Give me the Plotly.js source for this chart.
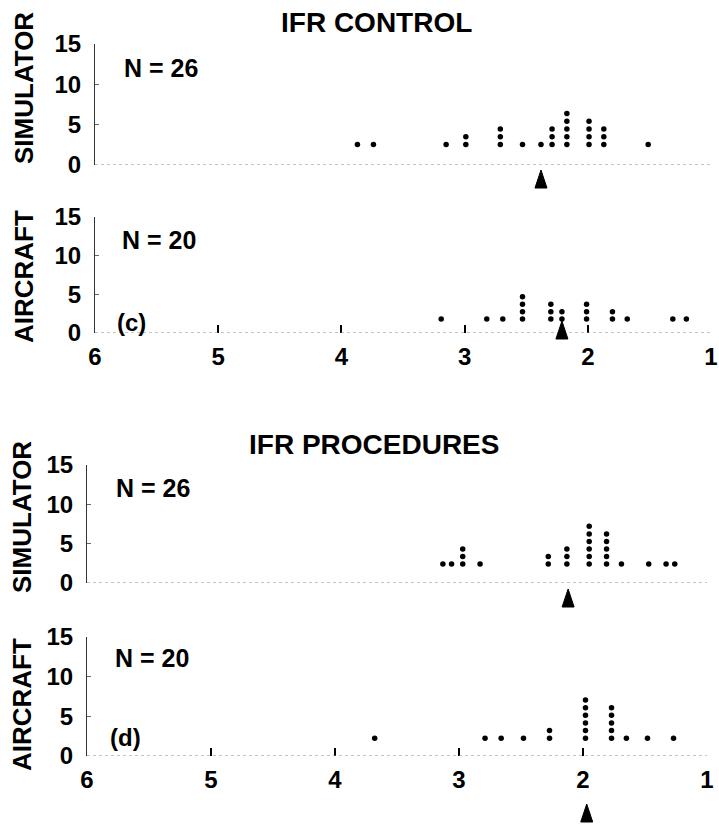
<!DOCTYPE html>
<html>
<head>
<meta charset="utf-8">
<script src="https://cdn.plot.ly/plotly-3.0.1.min.js"></script>
<style>html,body{margin:0;padding:0;background:#fff;}#chart{width:719px;height:826px;}</style>
</head>
<body>
<div id="chart"></div>
<script>
// ---- data (score scale 6 .. 1, counts of subjects) ----
const xTickValues = [6, 5, 4, 3, 2, 1];
const xTickLabels = ["6", "5", "4", "3", "2", "1"];
const yTickValues = [0, 5, 10, 15];
const yTickLabels = ["0", "5", "10", "15"];

// (c) IFR CONTROL - simulator, N = 26
const ctrlSimScores = [3.87, 3.74, 3.15, 2.99, 2.71, 2.53, 2.38, 2.29, 2.17, 1.99, 1.87, 1.51];
const ctrlSimCounts = [1, 1, 1, 2, 3, 1, 1, 3, 5, 4, 3, 1];
const ctrlSimMedian = 2.38;
// (c) IFR CONTROL - aircraft, N = 20
const ctrlAcScores = [3.19, 2.82, 2.69, 2.53, 2.30, 2.21, 2.01, 1.80, 1.68, 1.31, 1.20];
const ctrlAcCounts = [1, 1, 1, 4, 3, 2, 3, 2, 1, 1, 1];
const ctrlAcMedian = 2.21;
// (d) IFR PROCEDURES - simulator, N = 26
const procSimScores = [3.13, 3.06, 2.97, 2.83, 2.28, 2.13, 1.95, 1.81, 1.69, 1.47, 1.33, 1.26];
const procSimCounts = [1, 1, 3, 1, 2, 3, 6, 5, 1, 1, 1, 1];
const procSimMedian = 2.12;
// (d) IFR PROCEDURES - aircraft, N = 20
const procAcScores = [3.68, 2.79, 2.66, 2.48, 2.27, 1.98, 1.77, 1.65, 1.48, 1.27];
const procAcCounts = [1, 1, 1, 1, 2, 6, 5, 1, 1, 1];
const procAcMedian = 1.97;

const panelGroups = ["SIMULATOR", "AIRCRAFT", "SIMULATOR", "AIRCRAFT"];
const panelN = ["N = 26", "N = 20", "N = 26", "N = 20"];
const sectionTitles = ["IFR CONTROL", "IFR PROCEDURES"];
const panelLetters = ["(c)", "(d)"];

// ---- layout (pixel geometry of the figure) ----
const W = 719, H = 826;
const px = v => v / W, py = v => 1 - v / H;
const panels = [
  {scores: ctrlSimScores, counts: ctrlSimCounts, median: ctrlSimMedian, xl: 95, xr: 711, y0: 165, y15: 44, base: 2.55, triPx: 179, ticks: false},
  {scores: ctrlAcScores, counts: ctrlAcCounts, median: ctrlAcMedian, xl: 95, xr: 711, y0: 333, y15: 217, base: 1.8, triPx: 330, ticks: true},
  {scores: procSimScores, counts: procSimCounts, median: procSimMedian, xl: 87, xr: 707, y0: 583, y15: 465, base: 2.4, triPx: 598, ticks: false},
  {scores: procAcScores, counts: procAcCounts, median: procAcMedian, xl: 87, xr: 707, y0: 756, y15: 637, base: 2.25, triPx: 813, ticks: true}
];
const STEP = 0.96;
const FONT = "Liberation Sans, Arial, Helvetica, sans-serif";

const traces = [];
const layout = {
  width: W, height: H,
  margin: {l: 0, r: 0, t: 0, b: 0},
  paper_bgcolor: "#fff", plot_bgcolor: "rgba(0,0,0,0)",
  showlegend: false,
  font: {family: FONT, size: 24, color: "#000", weight: "bold"},
  annotations: [], shapes: []
};

panels.forEach((p, i) => {
  const n = i + 1;
  const xa = "x" + (n === 1 ? "" : n), ya = "y" + (n === 1 ? "" : n);
  // stacked dots
  const dx = [], dy = [];
  p.scores.forEach((s, j) => {
    for (let k = 0; k < p.counts[j]; k++) { dx.push(s); dy.push(p.base + k * STEP); }
  });
  traces.push({type: "scatter", mode: "markers", x: dx, y: dy, xaxis: xa, yaxis: ya,
    marker: {symbol: "circle", size: 5.5, color: "#000"}, hoverinfo: "x", cliponaxis: false});

  layout["xaxis" + (n === 1 ? "" : n)] = {
    domain: [px(p.xl), px(p.xr)], range: [6, 1], anchor: ya,
    showgrid: false, zeroline: false, showline: false,
    tickvals: xTickValues, ticktext: xTickLabels,
    showticklabels: p.ticks, ticks: p.ticks ? "inside" : "", ticklen: 8, tickwidth: 2, tickcolor: "#000",
    ticklabelstandoff: 7, ticklabeloverflow: "allow",
    tickfont: {size: 24, family: FONT, weight: "bold"}
  };
  layout["yaxis" + (n === 1 ? "" : n)] = {
    domain: [py(p.y0), py(p.y15)], range: [0, 15], anchor: xa,
    showgrid: false, zeroline: false, showline: true, linecolor: "#333", linewidth: 1,
    tickvals: yTickValues, ticktext: yTickLabels,
    ticks: "inside", ticklen: 4, tickcolor: "#666",
    ticklabelstandoff: 8, tickfont: {size: 24, family: FONT, weight: "bold"}
  };
  // faint dotted baseline
  layout.shapes.push({type: "line", xref: xa + " domain", yref: ya, x0: 0, x1: 1, y0: 0, y1: 0,
    line: {color: "#8a8a8a", width: 1.2, dash: "dot"}});
  // median marker: tall black triangle anchored at the median score
  layout.shapes.push({type: "path", xref: xa, yref: "paper",
    xsizemode: "pixel", xanchor: p.median, ysizemode: "pixel", yanchor: py(p.triPx),
    path: "M -6,-9 L 6,-9 L 0,9 Z", fillcolor: "#000", line: {color: "#000", width: 1}});
});

const ann = (text, x, y, size, extra) => Object.assign({text, x: px(x), y: py(y), xref: "paper", yref: "paper",
  xanchor: "center", yanchor: "middle", showarrow: false, font: {family: FONT, size, color: "#000", weight: "bold"}}, extra || {});

layout.annotations.push(ann(sectionTitles[0], 376, 22, 28));
layout.annotations.push(ann(sectionTitles[1], 374, 445, 28));
layout.annotations.push(ann(panelGroups[0], 24, 88, 26, {textangle: -90}));
layout.annotations.push(ann(panelGroups[1], 24, 277, 26, {textangle: -90}));
layout.annotations.push(ann(panelGroups[2], 22, 517, 26, {textangle: -90}));
layout.annotations.push(ann(panelGroups[3], 22, 705, 26, {textangle: -90}));
layout.annotations.push(ann(panelN[0], 161, 68, 25));
layout.annotations.push(ann(panelN[1], 159, 240, 25));
layout.annotations.push(ann(panelN[2], 153, 488, 25));
layout.annotations.push(ann(panelN[3], 152, 658, 25));
layout.annotations.push(ann(panelLetters[0], 131, 322, 24));
layout.annotations.push(ann(panelLetters[1], 125, 737, 24));

Plotly.newPlot("chart", traces, layout, {staticPlot: true, displayModeBar: false});
</script>
</body>
</html>
